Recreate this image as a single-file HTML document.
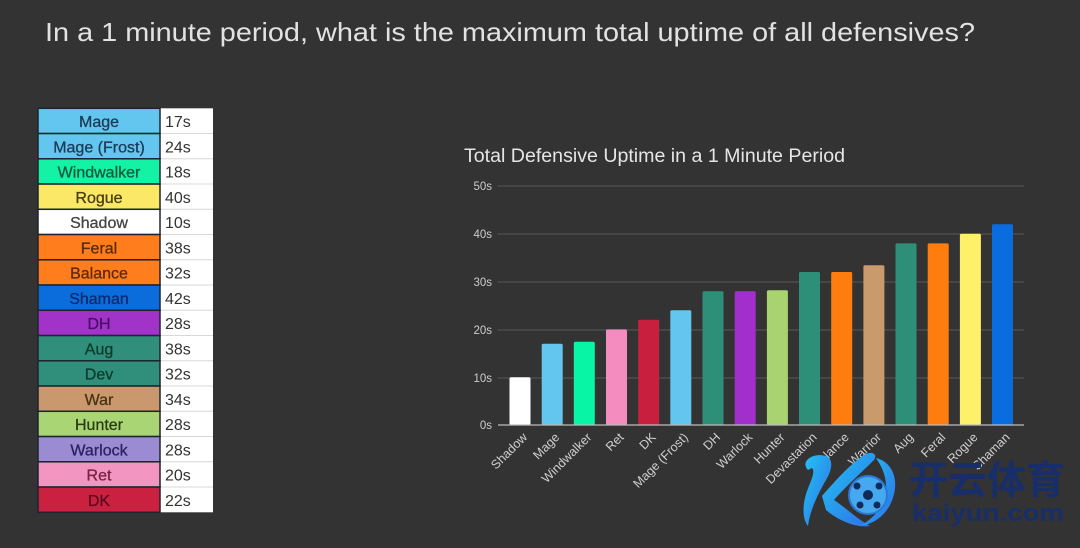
<!DOCTYPE html>
<html>
<head>
<meta charset="utf-8">
<style>
html,body{margin:0;padding:0;background:#333333;}
svg{display:block;}
text{font-family:"Liberation Sans","Noto Sans CJK SC",sans-serif;}
</style>
</head>
<body>
<svg width="1080" height="548" viewBox="0 0 1080 548" xmlns="http://www.w3.org/2000/svg">
<defs>
<linearGradient id="kg" x1="0" y1="0" x2="1" y2="1">
<stop offset="0" stop-color="#22c4f4"/>
<stop offset="1" stop-color="#2f6ee6"/>
</linearGradient>
</defs>
<rect width="1080" height="548" fill="#333333"/>

<!-- Main title -->
<text x="45" y="41" font-size="26" fill="#e2e2e2" textLength="930" lengthAdjust="spacingAndGlyphs">In a 1 minute period, what is the maximum total uptime of all defensives?</text>

<!-- Table -->
<g font-size="16">
<rect x="160" y="108.3" width="53" height="404" fill="#ffffff"/>
<g stroke="#d8d8d8" stroke-width="1">
<line x1="160" y1="133.55" x2="213" y2="133.55"/><line x1="160" y1="158.8" x2="213" y2="158.8"/>
<line x1="160" y1="184.05" x2="213" y2="184.05"/><line x1="160" y1="209.3" x2="213" y2="209.3"/>
<line x1="160" y1="234.55" x2="213" y2="234.55"/><line x1="160" y1="259.8" x2="213" y2="259.8"/>
<line x1="160" y1="285.05" x2="213" y2="285.05"/><line x1="160" y1="310.3" x2="213" y2="310.3"/>
<line x1="160" y1="335.55" x2="213" y2="335.55"/><line x1="160" y1="360.8" x2="213" y2="360.8"/>
<line x1="160" y1="386.05" x2="213" y2="386.05"/><line x1="160" y1="411.3" x2="213" y2="411.3"/>
<line x1="160" y1="436.55" x2="213" y2="436.55"/><line x1="160" y1="461.8" x2="213" y2="461.8"/>
<line x1="160" y1="487.05" x2="213" y2="487.05"/>
</g>
<g stroke="#1c2530" stroke-width="1.5">
<rect x="38" y="108.3" width="122" height="25.25" fill="#62c6ee"/>
<rect x="38" y="133.55" width="122" height="25.25" fill="#62c6ee"/>
<rect x="38" y="158.8" width="122" height="25.25" fill="#14f2a6"/>
<rect x="38" y="184.05" width="122" height="25.25" fill="#fbe866"/>
<rect x="38" y="209.3" width="122" height="25.25" fill="#ffffff"/>
<rect x="38" y="234.55" width="122" height="25.25" fill="#ff7d1c"/>
<rect x="38" y="259.8" width="122" height="25.25" fill="#ff7d1c"/>
<rect x="38" y="285.05" width="122" height="25.25" fill="#0b6cdc"/>
<rect x="38" y="310.3" width="122" height="25.25" fill="#a233c9"/>
<rect x="38" y="335.55" width="122" height="25.25" fill="#2f8f7b"/>
<rect x="38" y="360.8" width="122" height="25.25" fill="#2f8f7b"/>
<rect x="38" y="386.05" width="122" height="25.25" fill="#c9986c"/>
<rect x="38" y="411.3" width="122" height="25.25" fill="#a9d574"/>
<rect x="38" y="436.55" width="122" height="25.25" fill="#9b8bd2"/>
<rect x="38" y="461.8" width="122" height="25.25" fill="#f296c1"/>
<rect x="38" y="487.05" width="122" height="25.25" fill="#c9213f"/>
</g>
<g text-anchor="middle" stroke-width="0.3">
<text x="99" y="127" fill="#1d3a56" stroke="#1d3a56">Mage</text>
<text x="99" y="152.3" fill="#1d3a56" stroke="#1d3a56">Mage (Frost)</text>
<text x="99" y="177.5" fill="#0b5a3c" stroke="#0b5a3c">Windwalker</text>
<text x="99" y="202.8" fill="#4a4012" stroke="#4a4012">Rogue</text>
<text x="99" y="228" fill="#444444" stroke="#444444">Shadow</text>
<text x="99" y="253.3" fill="#5a2a0c" stroke="#5a2a0c">Feral</text>
<text x="99" y="278.5" fill="#5a2a0c" stroke="#5a2a0c">Balance</text>
<text x="99" y="303.8" fill="#0c2a6a" stroke="#0c2a6a">Shaman</text>
<text x="99" y="329" fill="#4a0e68" stroke="#4a0e68">DH</text>
<text x="99" y="354.3" fill="#0d3a2e" stroke="#0d3a2e">Aug</text>
<text x="99" y="379.5" fill="#0d3a2e" stroke="#0d3a2e">Dev</text>
<text x="99" y="404.8" fill="#4a3214" stroke="#4a3214">War</text>
<text x="99" y="430" fill="#2a3a12" stroke="#2a3a12">Hunter</text>
<text x="99" y="455.3" fill="#2a2262" stroke="#2a2262">Warlock</text>
<text x="99" y="480.5" fill="#7a2244" stroke="#7a2244">Ret</text>
<text x="99" y="505.8" fill="#5a0c1c" stroke="#5a0c1c">DK</text>
</g>
<g fill="#333333">
<text x="165" y="127">17s</text>
<text x="165" y="152.3">24s</text>
<text x="165" y="177.5">18s</text>
<text x="165" y="202.8">40s</text>
<text x="165" y="228">10s</text>
<text x="165" y="253.3">38s</text>
<text x="165" y="278.5">32s</text>
<text x="165" y="303.8">42s</text>
<text x="165" y="329">28s</text>
<text x="165" y="354.3">38s</text>
<text x="165" y="379.5">32s</text>
<text x="165" y="404.8">34s</text>
<text x="165" y="430">28s</text>
<text x="165" y="455.3">28s</text>
<text x="165" y="480.5">20s</text>
<text x="165" y="505.8">22s</text>
</g>
</g>

<!-- Chart title -->
<text x="464" y="162" font-size="19" fill="#e6e6e6" textLength="381" lengthAdjust="spacingAndGlyphs">Total Defensive Uptime in a 1 Minute Period</text>

<!-- Gridlines -->
<g stroke="#585858" stroke-width="1">
<line x1="498" y1="186" x2="1024" y2="186"/>
<line x1="498" y1="234" x2="1024" y2="234"/>
<line x1="498" y1="282" x2="1024" y2="282"/>
<line x1="498" y1="330" x2="1024" y2="330"/>
<line x1="498" y1="378" x2="1024" y2="378"/>
</g>
<g font-size="11.5" fill="#cccccc" text-anchor="end">
<text x="492" y="190">50s</text>
<text x="492" y="238">40s</text>
<text x="492" y="286">30s</text>
<text x="492" y="334">20s</text>
<text x="492" y="382">10s</text>
<text x="492" y="429">0s</text>
</g>

<!-- Bars -->
<g>
<rect x="509.5" y="377.2" width="21" height="47.8" rx="1.5" fill="#ffffff"/>
<rect x="541.7" y="343.7" width="21" height="81.3" rx="1.5" fill="#62c6ee"/>
<rect x="573.8" y="341.8" width="21" height="83.2" rx="1.5" fill="#08f5a5"/>
<rect x="606.0" y="329.4" width="21" height="95.6" rx="1.5" fill="#f48cbf"/>
<rect x="638.2" y="319.8" width="21" height="105.2" rx="1.5" fill="#c81f3f"/>
<rect x="670.3" y="310.3" width="21" height="114.7" rx="1.5" fill="#62c6ee"/>
<rect x="702.5" y="291.2" width="21" height="133.8" rx="1.5" fill="#2e8f78"/>
<rect x="734.7" y="291.2" width="21" height="133.8" rx="1.5" fill="#a22fcc"/>
<rect x="766.9" y="290.2" width="21" height="134.8" rx="1.5" fill="#a8d370"/>
<rect x="799.0" y="272.0" width="21" height="153" rx="1.5" fill="#2e8f78"/>
<rect x="831.2" y="272.0" width="21" height="153" rx="1.5" fill="#ff7d0f"/>
<rect x="863.4" y="265.3" width="21" height="159.7" rx="1.5" fill="#c99a6b"/>
<rect x="895.5" y="243.4" width="21" height="181.6" rx="1.5" fill="#2e8f78"/>
<rect x="927.7" y="243.4" width="21" height="181.6" rx="1.5" fill="#ff7d0f"/>
<rect x="959.9" y="233.8" width="21" height="191.2" rx="1.5" fill="#fff06a"/>
<rect x="992.0" y="224.2" width="21" height="200.8" rx="1.5" fill="#0a6ddf"/>
</g>
<line x1="498" y1="425" x2="1024" y2="425" stroke="#bdbdbd" stroke-width="1.2"/>

<!-- X labels -->
<g font-size="12.5" fill="#d0d0d0" text-anchor="end">
<text transform="translate(528,438) rotate(-45)">Shadow</text>
<text transform="translate(560.2,438) rotate(-45)">Mage</text>
<text transform="translate(592.3,438) rotate(-45)">Windwalker</text>
<text transform="translate(624.5,438) rotate(-45)">Ret</text>
<text transform="translate(656.7,438) rotate(-45)">DK</text>
<text transform="translate(688.8,438) rotate(-45)">Mage (Frost)</text>
<text transform="translate(721,438) rotate(-45)">DH</text>
<text transform="translate(753.2,438) rotate(-45)">Warlock</text>
<text transform="translate(785.4,438) rotate(-45)">Hunter</text>
<text transform="translate(817.5,438) rotate(-45)">Devastation</text>
<text transform="translate(849.7,438) rotate(-45)">Balance</text>
<text transform="translate(881.9,438) rotate(-45)">Warrior</text>
<text transform="translate(914,438) rotate(-45)">Aug</text>
<text transform="translate(946.2,438) rotate(-45)">Feral</text>
<text transform="translate(978.4,438) rotate(-45)">Rogue</text>
<text transform="translate(1010.5,438) rotate(-45)">Shaman</text>
</g>

<!-- Watermark -->
<g>
<path d="M808,470 C800,462 812,452 826,456 C834,459 832,470 826,480 C818,494 810,510 808,526 C803,520 802,508 806,494 C810,482 816,472 812,468 Z" fill="url(#kg)"/>
<path d="M822,496 C836,480 852,462 866,454 C872,451 878,454 874,460 C862,472 846,486 834,500 C846,508 856,518 870,526 C858,528 840,522 826,510 Z" fill="url(#kg)"/>
<path d="M876,458 C892,462 898,478 894,494 C890,512 876,524 860,526 C878,516 888,500 886,484 C885,472 880,464 876,458 Z" fill="url(#kg)"/>
<circle cx="868" cy="495" r="19" fill="#46a8ee" stroke="#2a78d8" stroke-width="2"/>
<circle cx="868" cy="495" r="5" fill="#102a5a"/>
<circle cx="857" cy="486" r="3.5" fill="#102a5a"/>
<circle cx="879" cy="486" r="3.5" fill="#102a5a"/>
<circle cx="860" cy="505" r="3.5" fill="#102a5a"/>
<circle cx="877" cy="505" r="3.5" fill="#102a5a"/>
<text x="909" y="494" font-size="39" font-weight="bold" fill="#172e6a" textLength="156" lengthAdjust="spacingAndGlyphs">开云体育</text>
<text x="912" y="521" font-size="24" font-weight="bold" fill="#172e6a" textLength="152" lengthAdjust="spacingAndGlyphs">kaiyun.com</text>
</g>
</svg>
</body>
</html>
